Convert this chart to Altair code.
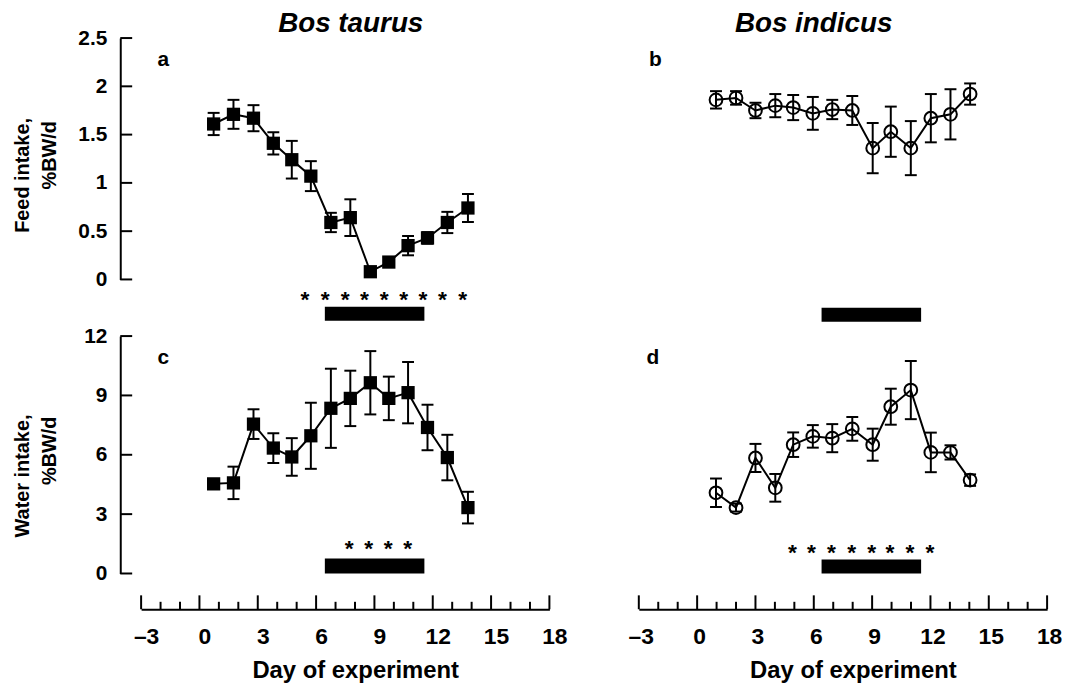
import altair as alt
import pandas as pd

FONT = "Liberation Sans"

# ---------------- data ----------------
days_taurus = [0.73, 1.75, 2.78, 3.8, 4.75, 5.73, 6.76, 7.76, 8.79, 9.74, 10.73, 11.73, 12.75, 13.81]
days_indicus = [0.97, 2.0, 3.0, 4.02, 4.94, 5.95, 6.95, 7.98, 9.03, 9.96, 10.99, 12.02, 13.03, 14.04]

feed_taurus = [1.61, 1.71, 1.67, 1.41, 1.24, 1.07, 0.59, 0.64, 0.08, 0.18, 0.35, 0.43, 0.59, 0.74]
feed_taurus_se = [0.115, 0.15, 0.135, 0.115, 0.195, 0.155, 0.10, 0.19, 0.03, 0.05, 0.10, 0.06, 0.11, 0.145]
feed_indicus = [1.86, 1.88, 1.75, 1.80, 1.78, 1.72, 1.76, 1.75, 1.36, 1.53, 1.36, 1.67, 1.71, 1.92]
feed_indicus_se = [0.09, 0.07, 0.08, 0.12, 0.13, 0.17, 0.10, 0.15, 0.26, 0.26, 0.28, 0.25, 0.26, 0.11]

water_taurus = [4.53, 4.58, 7.55, 6.34, 5.89, 6.96, 8.35, 8.85, 9.64, 8.85, 9.14, 7.38, 5.86, 3.33]
water_taurus_se = [0.15, 0.82, 0.75, 0.75, 0.95, 1.67, 2.0, 1.4, 1.6, 1.1, 1.55, 1.15, 1.15, 0.8]
water_indicus = [4.08, 3.33, 5.84, 4.33, 6.51, 6.93, 6.84, 7.31, 6.51, 8.43, 9.27, 6.12, 6.12, 4.72]
water_indicus_se = [0.72, 0.2, 0.71, 0.7, 0.62, 0.57, 0.71, 0.6, 0.81, 0.91, 1.47, 1.0, 0.36, 0.29]

stars_a = [5.42, 6.47, 7.49, 8.49, 9.5, 10.5, 11.5, 12.5, 13.54]
stars_c = [7.7, 8.71, 9.71, 10.71]
stars_d = [4.9, 5.88, 6.91, 7.95, 8.98, 9.92, 10.95, 11.98]

heat_taurus = [6.45, 11.57]
heat_indicus = [6.4, 11.52]

x_major = [-3, 0, 3, 6, 9, 12, 15, 18]
x_minor = [-2, -1, 1, 2, 4, 5, 7, 8, 10, 11, 13, 14, 16, 17]
feed_ticks = [0, 0.5, 1, 1.5, 2, 2.5]
water_ticks = [0, 3, 6, 9, 12]

# ---------------- layout ----------------
W = 411
H_TOP = 243
H_BOT = 239
XOFF = 36
YOFF = 21

xs = alt.Scale(domain=[-3, 18], nice=False, zero=False)


def text_layer(txt, x, y, size, align="left", angle=0, italic=False):
    return alt.Chart(pd.DataFrame({"t": [txt]})).mark_text(
        font=FONT, fontSize=size, fontWeight="bold",
        fontStyle="italic" if italic else "normal",
        align=align, baseline="alphabetic", angle=angle, color="black",
    ).encode(text="t:N", x=alt.value(x), y=alt.value(y))


def panel(days, vals, se, ydom, height, square, stars, star_y, heat, bar_y,
          letter, letter_x, yticks=None, ytitle=None, title=None, title_x=0,
          xaxis=False, label_offset=5):
    ys = alt.Scale(domain=ydom, nice=False, zero=False)
    df = pd.DataFrame({"day": days, "v": vals,
                       "lo": [a - b for a, b in zip(vals, se)],
                       "hi": [a + b for a, b in zip(vals, se)]})
    if xaxis:
        xax = alt.Axis(offset=XOFF, values=x_major, ticks=False, tickSize=0,
                       labelPadding=16.5, labelOffset=label_offset, labelFlush=False,
                       labelFont=FONT, labelFontSize=23, labelFontWeight="bold",
                       labelColor="black", domainColor="black", domainWidth=2,
                       grid=False, title=None,
                       labelExpr="datum.value < 0 ? '\u2013' + (-datum.value) : '' + datum.value")
    else:
        xax = None
    if yticks is not None:
        yax = alt.Axis(offset=YOFF, values=yticks, ticks=False, tickSize=0,
                       labelPadding=13.5, labelFont=FONT, labelFontSize=21,
                       labelFontWeight="bold", labelColor="black",
                       domainColor="black", domainWidth=2, grid=False, title=None,
                       labelExpr="'' + datum.value")
    else:
        yax = None

    def X(f):
        return alt.X(f, scale=xs, axis=xax)

    def Y(f):
        return alt.Y(f, scale=ys, axis=yax)

    base = alt.Chart(df)
    layers = []
    # line (carries the axes)
    layers.append(base.mark_line(color="black", strokeWidth=2).encode(x=X("day:Q"), y=Y("v:Q")))
    # treatment bar
    layers.append(alt.Chart(pd.DataFrame({"s": [heat[0]], "e": [heat[1]]})).mark_rect(color="black").encode(
        x=X("s:Q"), x2="e:Q", y=alt.value(bar_y[0]), y2=alt.value(bar_y[1])))
    # stars
    if stars:
        layers.append(alt.Chart(pd.DataFrame({"day": stars})).mark_text(
            text="*", font=FONT, fontSize=23, fontWeight="bold", baseline="alphabetic", color="black"
        ).encode(x=X("day:Q"), y=alt.value(star_y)))
    # error bars
    layers.append(base.mark_rule(color="black", strokeWidth=2).encode(
        x=X("day:Q"), y=Y("lo:Q"), y2="hi:Q"))
    for f in ["lo", "hi"]:
        layers.append(base.mark_tick(color="black", orient="horizontal", size=12, thickness=2, opacity=1).encode(
            x=X("day:Q"), y=Y(f + ":Q")))
    # markers
    if square:
        pm = base.mark_point(shape="square", filled=True, size=178, color="black", opacity=1)
    else:
        pm = base.mark_point(shape="circle", filled=False, size=165, color="black",
                             strokeWidth=2, opacity=1)
    layers.append(pm.encode(x=X("day:Q"), y=Y("v:Q")))
    # inward y ticks
    if yticks is not None:
        layers.append(alt.Chart(pd.DataFrame({"v": yticks})).mark_rule(color="black", strokeWidth=2).encode(
            y=Y("v:Q"), x=alt.value(-YOFF), x2=alt.value(-YOFF + 12)))
    # inward x ticks
    if xaxis:
        yl = height + XOFF
        layers.append(alt.Chart(pd.DataFrame({"d": x_major})).mark_rule(color="black", strokeWidth=2).encode(
            x=X("d:Q"), y=alt.value(yl - 14), y2=alt.value(yl)))
        layers.append(alt.Chart(pd.DataFrame({"d": x_minor})).mark_rule(color="black", strokeWidth=2).encode(
            x=X("d:Q"), y=alt.value(yl - 7.5), y2=alt.value(yl)))
        layers.append(text_layer("Day of experiment", 216, 344, 24, align="center"))
    # letter
    layers.append(text_layer(letter, letter_x, 28.5, 21))
    if ytitle is not None:
        layers.append(text_layer(ytitle[0], -112.5, ytitle[2], 20, align="right", angle=270))
        layers.append(text_layer(ytitle[1], -86, ytitle[3], 20, align="right", angle=270))
    if title is not None:
        layers.append(text_layer(title, title_x, -6, 28, align="center", italic=True))
    return alt.layer(*layers).properties(width=W, height=height)


pa = panel(days_taurus, feed_taurus, feed_taurus_se, [0, 2.5], H_TOP, True,
           stars_a, 271, heat_taurus, (270.5, 284.5), "a", 16.6,
           yticks=feed_ticks, ytitle=("Feed intake,", "%BW/d", 80.5, 83.5),
           title="Bos taurus", title_x=211)
pb = panel(days_indicus, feed_indicus, feed_indicus_se, [0, 2.5], H_TOP, False,
           [], 0, heat_indicus, (271.5, 285.5), "b", 10.3,
           title="Bos indicus", title_x=176)
pc = panel(days_taurus, water_taurus, water_taurus_se, [0, 12], H_BOT, True,
           stars_c, 221, heat_taurus, (224, 239), "c", 16.6,
           yticks=water_ticks, ytitle=("Water intake,", "%BW/d", 79, 81),
           xaxis=True, label_offset=5)
pd_ = panel(days_indicus, water_indicus, water_indicus_se, [0, 12], H_BOT, False,
            stars_d, 225, heat_indicus, (225, 239), "d", 7.8,
            xaxis=True, label_offset=2)

chart = alt.concat(pa, pb, pc, pd_, columns=2, spacing={"row": 57, "column": 90},
                   bounds="flush").properties(
    padding={"left": 5, "top": 0, "right": 0, "bottom": 0}
).configure(font=FONT, background="white", view=alt.ViewConfig(stroke=None))

chart.save("out.html", embed_options={"renderer": "svg", "actions": False})
